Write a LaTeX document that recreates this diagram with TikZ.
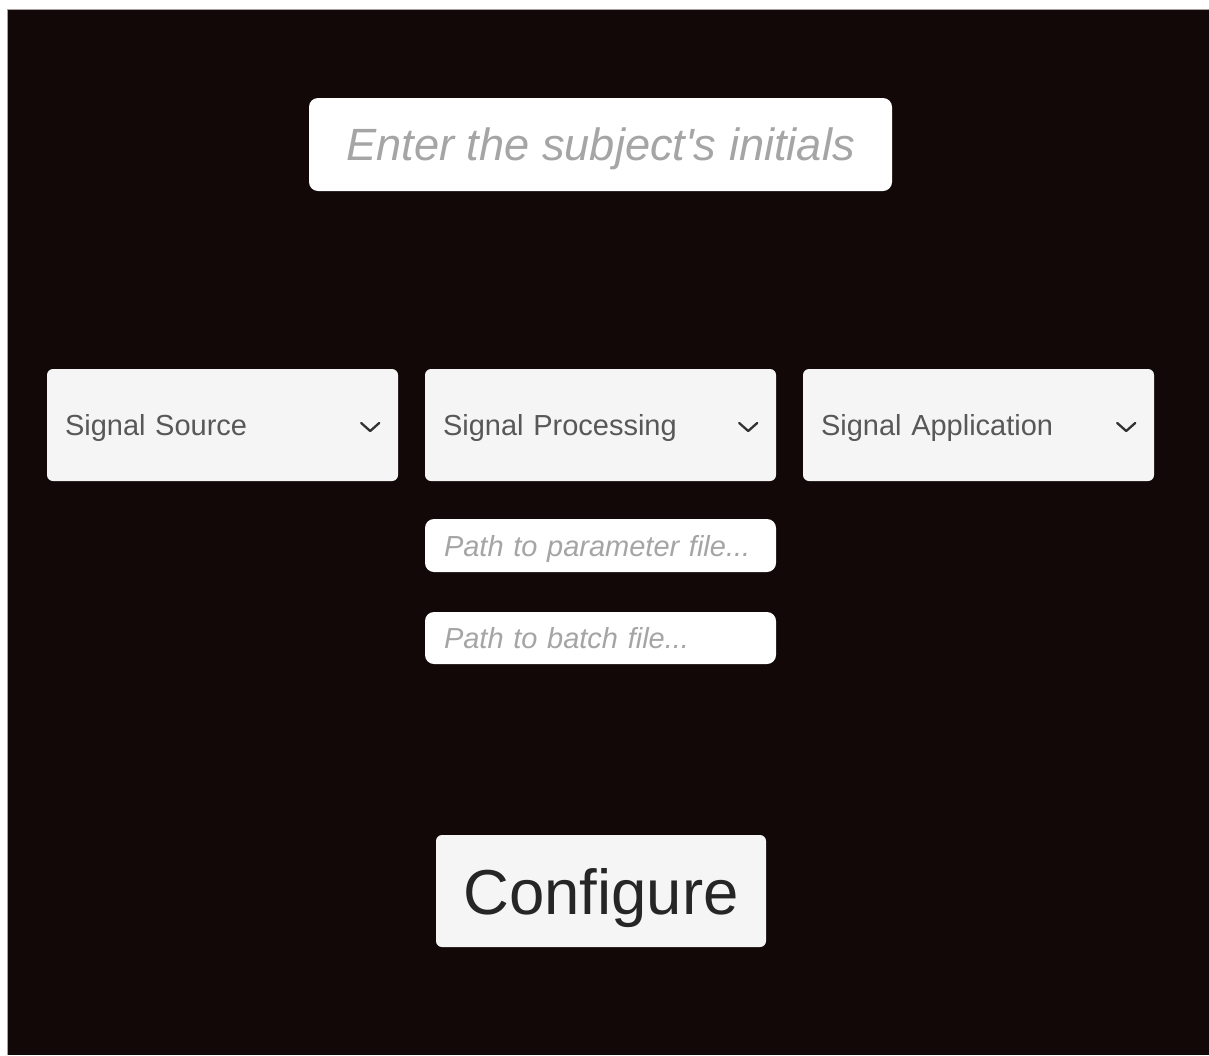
\documentclass[tikz,border=0pt]{standalone}
\usepackage{fontspec}
\setmainfont{Liberation Sans}[Ligatures=TeXOff]
\definecolor{panelbg}{RGB}{18,8,8}
\definecolor{panelrim}{RGB}{170,160,160}
\definecolor{fieldfill}{RGB}{255,255,255}
\definecolor{dropfill}{RGB}{245,245,245}
\definecolor{hinttext}{RGB}{165,165,165}
\definecolor{droptext}{RGB}{88,88,88}
\definecolor{chevron}{RGB}{50,50,50}
\definecolor{btntext}{RGB}{38,38,38}
\tikzset{
  fieldbase/.style={rectangle, rounded corners=9pt, fill=fieldfill, draw=none,
    inner ysep=0pt, text depth=0pt, text=hinttext},
  inputfield/.style={fieldbase, minimum width=#1, inner xsep=19pt,
    text width=#1-38pt, align=left},
  dropbox/.style={rectangle, rounded corners=6pt, fill=dropfill, draw=none,
    minimum width=351pt, minimum height=112pt, inner xsep=18pt, inner ysep=0pt,
    text width=315pt, text depth=0pt, align=left, text=droptext,
    font=\fontsize{29}{34}\selectfont},
  arrowmark/.style={draw=chevron, line width=2.3pt, line cap=round, line join=round},
  button/.style={rectangle, rounded corners=6pt, fill=dropfill, draw=none,
    minimum width=330pt, minimum height=112pt, text=btntext, text depth=0pt,
    font=\fontsize{63.5}{70}\selectfont}
}
\begin{document}
\begin{tikzpicture}[x=1pt,y=-1pt]
  % page frame and dark panel
  \useasboundingbox (0,0) rectangle (1209,1055);
  \fill[white] (0,0) rectangle (1209,1055);
  \fill[panelbg] (7,9) rectangle (1209,1055);
  \draw[panelrim, line width=1pt] (7,1055) -- (7,9) -- (1209,9);

  % name entry field
  \node[fieldbase, minimum width=583pt, minimum height=93pt,
        font=\itshape\fontsize{45.2}{50}\selectfont] (initials) at (600.5,144.5)
        {Enter the subject's initials};

  % module dropdowns
  \node[dropbox] (source) at (222.5,425) {Signal Source};
  \node[dropbox] (processing) at (600.5,425) {Signal Processing};
  \node[dropbox] (application) at (978.5,425) {Signal Application};
  \foreach \d in {source,processing,application}{
    \draw[arrowmark] ([xshift=-37pt,yshift=2pt]\d.east) -- ([xshift=-28pt,yshift=-6pt]\d.east)
      -- ([xshift=-19pt,yshift=2pt]\d.east);
  }

  % file path fields
  \node[inputfield=351pt, minimum height=53pt, font=\itshape\fontsize{29}{32}\selectfont]
        (paramfile) at (600.5,545.5) {Path to parameter file...};
  \node[inputfield=351pt, minimum height=52pt, font=\itshape\fontsize{29}{32}\selectfont]
        (batchfile) at (600.5,638) {Path to batch file...};

  % configure button
  \node[button] (configure) at (601,891) {Configure};
\end{tikzpicture}
\end{document}
